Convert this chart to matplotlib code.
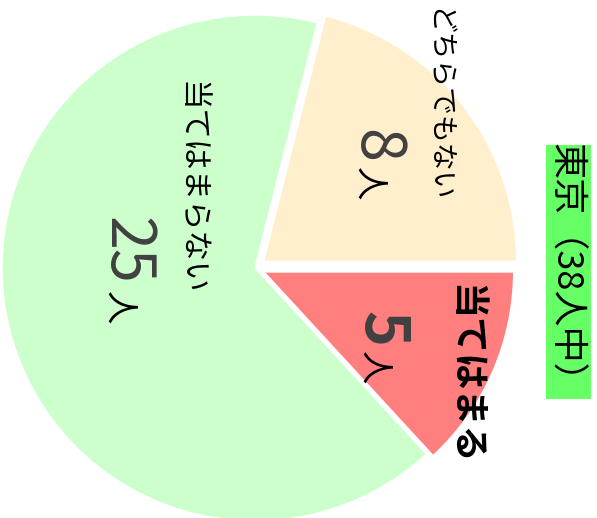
import matplotlib
matplotlib.use("Agg")
import matplotlib.pyplot as plt
from matplotlib.patches import Rectangle

plt.rcParams['font.family'] = ['Noto Sans CJK JP', 'DejaVu Sans']

# data
categories = ['当てはまる', '当てはまらない', 'どちらでもない']
counts = [5, 25, 8]
colors = ['#FF7F7F', '#CCFFCC', '#FFEFCC']
explode = [0.029, 0.0, 0.043]
title = '東京（38人中）'
unit = '人'

W, H = 597, 518
fig = plt.figure(figsize=(W / 100, H / 100), dpi=100)
ax = fig.add_axes([0, 0, 1, 1])

cx, cy, r = 255, 268, 253  # pixel centre / radius
wedges, _ = ax.pie(counts, colors=colors, startangle=0, counterclock=False,
                   explode=explode, wedgeprops=dict(edgecolor='white', linewidth=1.0))
wedges[0].set_linewidth(2.5)
ax.set_xlim(-cx / r, (W - cx) / r)
ax.set_ylim(-(H - cy) / r, cy / r)
ax.set_aspect('equal', adjustable='box')
ax.axis('off')


def P(x, y):
    return (x / W, 1 - y / H)


def txt(x, y, s, size, color='black', weight='normal', ha='center', va='center'):
    fig.text(*P(x, y), s, fontsize=size, color=color, fontweight=weight,
             rotation=-90, rotation_mode='anchor', ha=ha, va=va,
             transform=fig.transFigure)


# category names
txt(190, 188, categories[1], 22)
txt(437, 105, categories[2], 20)
txt(465, 374, categories[0], 26, weight='bold')

# counts
numc = '#404040'
txt(108, 251, str(counts[1]), 44, color=numc, va='baseline')
txt(108, 308, unit, 24, va='baseline')

txt(358, 146, str(counts[2]), 44, color=numc, va='baseline')
txt(358, 184, unit, 24, va='baseline')

txt(363, 329, str(counts[0]), 44, color=numc, weight='bold', va='baseline')
txt(363, 368, unit, 24, va='baseline')

# title box
fig.add_artist(Rectangle(P(546, 399), 45 / W, 254 / H, transform=fig.transFigure,
                         facecolor='#66FF66', edgecolor='none'))
txt(565, 271, title, 26)

fig.savefig('out.png', dpi=100)
